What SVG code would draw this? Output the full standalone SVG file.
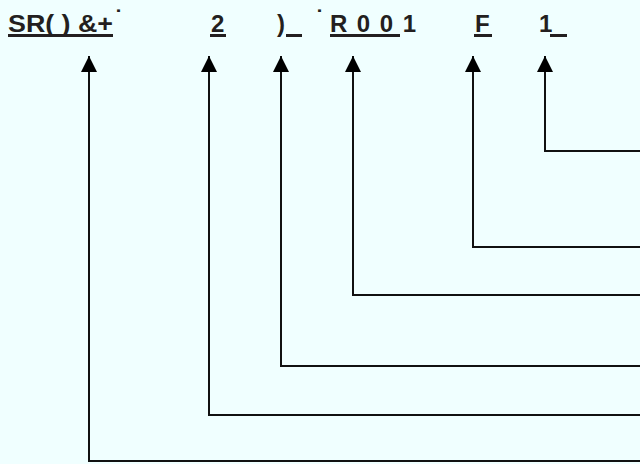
<svg xmlns="http://www.w3.org/2000/svg" width="640" height="464" viewBox="0 0 640 464">
<style>
.t{font-family:"Liberation Sans",Arial,sans-serif;font-weight:bold;font-size:24px;fill:#231f20}
.d{font-family:"DejaVu Sans",sans-serif;font-weight:bold;font-size:22px;fill:#231f20}
.u{stroke:#231f20;stroke-width:3;fill:none}
.c{stroke:#111;stroke-width:2;fill:none}
</style>
<defs>
<marker id="ah" markerUnits="userSpaceOnUse" markerWidth="16" markerHeight="16" viewBox="0 0 16 16" refX="16" refY="8" orient="auto">
<path d="M0,0 L16,8 L0,16 Z" fill="#000"/>
</marker>
</defs>
<rect width="640" height="464" fill="#f0ffff"/>
<g id="labels">
<text class="t" x="8" y="32" textLength="105" lengthAdjust="spacingAndGlyphs">SR( ) &amp;+</text>
<text class="d" x="113" y="26">˙</text>
<text class="t" x="211" y="32">2</text>
<text class="t" x="277" y="32">)</text>
<text class="d" x="314" y="26">˙</text>
<text class="t" x="330" y="32" textLength="86" lengthAdjust="spacing">R001</text>
<text class="t" x="475" y="32">F</text>
<text class="t" x="539" y="32">1</text>
<line class="u" x1="8" y1="35.5" x2="113" y2="35.5"/>
<line class="u" x1="210" y1="35.5" x2="226" y2="35.5"/>
<line class="u" x1="286" y1="35.5" x2="302" y2="35.5"/>
<line class="u" x1="330" y1="35.5" x2="400" y2="35.5"/>
<line class="u" x1="474" y1="35.5" x2="492" y2="35.5"/>
<line class="u" x1="550" y1="35.5" x2="567" y2="35.5"/>
</g>
<g id="connectors">
<polyline class="c" points="640,461 89,461 89,56" marker-end="url(#ah)"/>
<polyline class="c" points="640,415 209,415 209,56" marker-end="url(#ah)"/>
<polyline class="c" points="640,366 281,366 281,56" marker-end="url(#ah)"/>
<polyline class="c" points="640,295 353,295 353,56" marker-end="url(#ah)"/>
<polyline class="c" points="640,247 473,247 473,56" marker-end="url(#ah)"/>
<polyline class="c" points="640,151 545,151 545,56" marker-end="url(#ah)"/>
</g>
</svg>
